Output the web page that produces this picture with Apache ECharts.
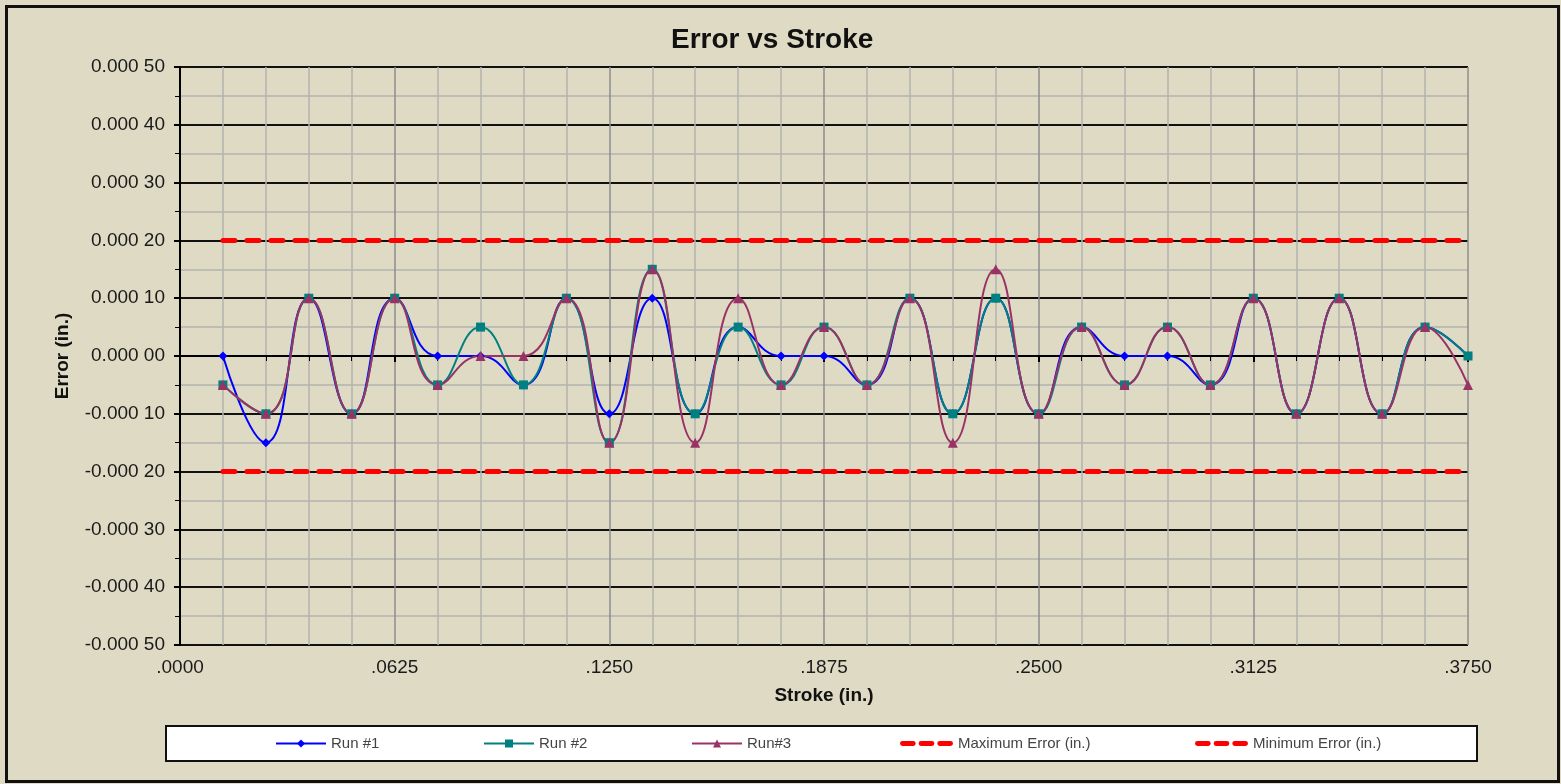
<!DOCTYPE html>
<html>
<head>
<meta charset="utf-8">
<script src="https://cdn.jsdelivr.net/npm/echarts@6/dist/echarts.min.js"></script>
<style>
  html, body { margin: 0; padding: 0; background: #dedac4; }
  #chart { width: 1561px; height: 784px; }
</style>
</head>
<body>
<div id="chart"></div>
<script>
// stroke positions (in.)
var stroke = [0.0125, 0.025, 0.0375, 0.05, 0.0625, 0.075, 0.0875, 0.1, 0.1125, 0.125,
  0.1375, 0.15, 0.1625, 0.175, 0.1875, 0.2, 0.2125, 0.225, 0.2375, 0.25,
  0.2625, 0.275, 0.2875, 0.3, 0.3125, 0.325, 0.3375, 0.35, 0.3625, 0.375];

// error readings (in.)
var run1 = [0, -0.00015, 0.0001, -0.0001, 0.0001, 0, 0, -0.00005, 0.0001, -0.0001,
  0.0001, -0.0001, 0.00005, 0, 0, -0.00005, 0.0001, -0.0001, 0.0001, -0.0001,
  0.00005, 0, 0, -0.00005, 0.0001, -0.0001, 0.0001, -0.0001, 0.00005, 0];
var run2 = [-0.00005, -0.0001, 0.0001, -0.0001, 0.0001, -0.00005, 0.00005, -0.00005, 0.0001, -0.00015,
  0.00015, -0.0001, 0.00005, -0.00005, 0.00005, -0.00005, 0.0001, -0.0001, 0.0001, -0.0001,
  0.00005, -0.00005, 0.00005, -0.00005, 0.0001, -0.0001, 0.0001, -0.0001, 0.00005, 0];
var run3 = [-0.00005, -0.0001, 0.0001, -0.0001, 0.0001, -0.00005, 0, 0, 0.0001, -0.00015,
  0.00015, -0.00015, 0.0001, -0.00005, 0.00005, -0.00005, 0.0001, -0.00015, 0.00015, -0.0001,
  0.00005, -0.00005, 0.00005, -0.00005, 0.0001, -0.0001, 0.0001, -0.0001, 0.00005, -0.00005];
var maxError = 0.0002;
var minError = -0.0002;

function pairs(vals) {
  return stroke.map(function (x, i) { return [x, vals[i]]; });
}
function flat(v) {
  return stroke.map(function (x) { return [x, v]; });
}

var myChart = echarts.init(document.getElementById("chart"));
var font = "Liberation Sans, Arial, sans-serif";

var runStyle = function (name, vals, color, symbol) {
  return {
    name: name,
    type: "line",
    data: pairs(vals),
    smooth: 0.5,
    symbol: symbol,
    symbolSize: symbol === "triangle" ? 10 : 9,
    lineStyle: { color: color, width: 2 },
    itemStyle: { color: color },
    z: 3
  };
};
var limitStyle = function (name, v) {
  return {
    name: name,
    type: "line",
    data: flat(v),
    symbol: "none",
    lineStyle: { color: "#ff0000", width: 5, type: [12, 12], cap: "round" },
    itemStyle: { color: "#ff0000" },
    z: 4
  };
};

var names = ["Run #1", "Run #2", "Run#3", "Maximum Error (in.)", "Minimum Error (in.)"];
var legendLeft = [270, 478, 686, 895, 1190];
// three short red bars for the limit lines in the legend
var dashIcon = "path://M2,0H13A2,2 0 0 1 13,5H2A2,2 0 0 1 2,0Z M21,0H32A2,2 0 0 1 32,5H21A2,2 0 0 1 21,0Z M40,0H51A2,2 0 0 1 51,5H40A2,2 0 0 1 40,0Z";

var option = {
  backgroundColor: "#dedac4",
  animation: false,
  title: {
    text: "Error vs Stroke",
    left: 666,
    top: 21,
    textStyle: { fontFamily: font, fontSize: 28, fontWeight: "bold", color: "#111" }
  },
  legend: names.map(function (n, i) {
    var lim = i > 2;
    return {
      data: [n],
      left: legendLeft[i],
      top: lim ? 731 : 731,
      icon: lim ? dashIcon : undefined,
      itemWidth: lim ? 53 : 50,
      itemHeight: lim ? 5 : 10,
      itemGap: 4,
      textStyle: { fontFamily: font, fontSize: 15, color: "#444" }
    };
  }),
  grid: { left: 180, right: 93, top: 67, bottom: 139 },
  xAxis: {
    type: "value",
    min: 0,
    max: 0.375,
    interval: 0.0625,
    name: "Stroke (in.)",
    nameLocation: "middle",
    nameGap: 41,
    nameTextStyle: { fontFamily: font, fontSize: 19, fontWeight: "bold", color: "#111" },
    axisLine: { show: true, lineStyle: { color: "#000", width: 2 } },
    axisTick: { show: true, length: 6, lineStyle: { color: "#000", width: 2 } },
    minorTick: { show: true, splitNumber: 5, length: 5, lineStyle: { color: "#000" } },
    axisLabel: {
      margin: 13,
      fontFamily: font, fontSize: 19, color: "#1a1a1a",
      formatter: function (v) { return v.toFixed(4).replace(/^0/, ""); }
    },
    splitLine: { show: true, lineStyle: { color: "#8c8c8c", width: 1.5 } },
    minorSplitLine: { show: true, lineStyle: { color: "#b4b4b0", width: 1.5 } }
  },
  yAxis: {
    type: "value",
    min: -0.0005,
    max: 0.0005,
    interval: 0.0001,
    name: "Error (in.)",
    nameLocation: "middle",
    nameGap: 108,
    nameTextStyle: { fontFamily: font, fontSize: 19, fontWeight: "bold", color: "#111" },
    axisLine: { show: true, lineStyle: { color: "#000", width: 2 } },
    axisTick: { show: true, length: 6, lineStyle: { color: "#000", width: 2 } },
    minorTick: { show: true, splitNumber: 2, length: 5, lineStyle: { color: "#000" } },
    axisLabel: {
      margin: 15,
      fontFamily: font, fontSize: 19, color: "#1a1a1a",
      formatter: function (v) {
        var s = v.toFixed(5);
        if (Math.abs(v) < 1e-9) s = "0.00000";
        return s.slice(0, -2) + " " + s.slice(-2);
      }
    },
    splitLine: { show: true, lineStyle: { color: "#111", width: 2 } },
    minorSplitLine: { show: true, lineStyle: { color: "#b4b4b0", width: 1.5 } }
  },
  graphic: [
    {
      type: "rect",
      left: 4, top: 4,
      shape: { width: 1552, height: 775 },
      style: { fill: "none", stroke: "#111", lineWidth: 3 },
      z: -1
    },
    {
      type: "rect",
      left: 165, top: 725,
      shape: { width: 1311, height: 35 },
      style: { fill: "#fff", stroke: "#111", lineWidth: 2 },
      z: -1
    }
  ],
  series: [
    runStyle("Run #1", run1, "#0000ff", "diamond"),
    runStyle("Run #2", run2, "#008080", "rect"),
    runStyle("Run#3", run3, "#993366", "triangle"),
    limitStyle("Maximum Error (in.)", maxError),
    limitStyle("Minimum Error (in.)", minError)
  ]
};
myChart.setOption(option);
</script>
</body>
</html>
